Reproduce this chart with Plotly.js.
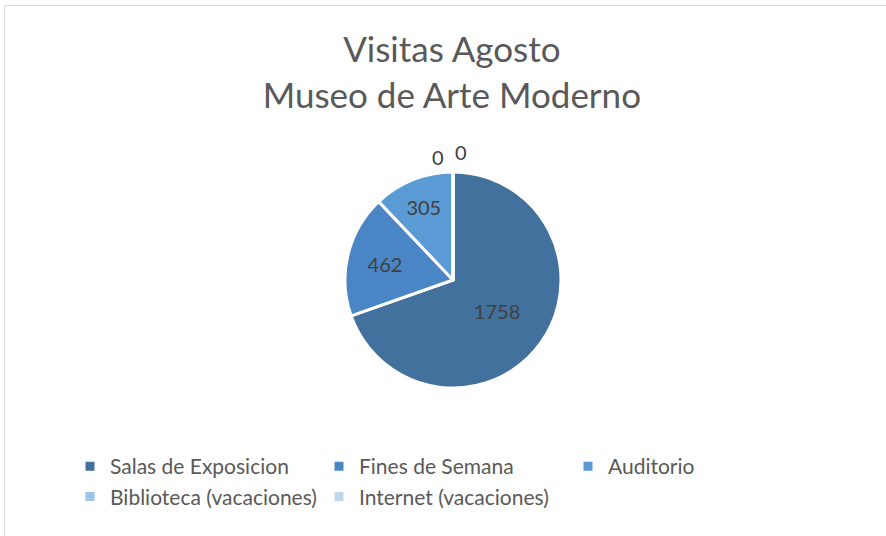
<!DOCTYPE html>
<html>
<head>
<meta charset="utf-8">
<script src="https://cdn.plot.ly/plotly-3.0.1.min.js"></script>
<style>html,body{margin:0;padding:0;background:#fff;}#chart{width:886px;height:536px;}</style>
</head>
<body>
<div id="chart"></div>
<script>
var categories = ["Salas de Exposicion", "Fines de Semana", "Auditorio", "Biblioteca (vacaciones)", "Internet (vacaciones)"];
var visitas = [1758, 462, 305, 0, 0];
var colores = ["#41719C", "#4A86C5", "#5B9BD5", "#9DC3E6", "#BDD7EE"];
var chartTitle = "Visitas Agosto<br>Museo de Arte Moderno";

var W = 886, H = 536;
var cx = 453, cy = 280, r = 108;
var FONT = "Lato, 'Open Sans', sans-serif";

var trace = {
  type: "pie",
  labels: categories,
  values: visitas,
  sort: false,
  direction: "clockwise",
  rotation: 0,
  textinfo: "value",
  textposition: visitas.map(function(v){ return v > 0 ? "inside" : "none"; }),
  insidetextorientation: "horizontal",
  textfont: {family: FONT, size: 20, color: "#404040"},
  marker: {colors: colores, line: {color: "#ffffff", width: 3}},
  domain: {x: [(cx - r) / W, (cx + r) / W], y: [(H - cy - r) / H, (H - cy + r) / H]},
  hoverinfo: "label+value+percent"
};

// labels for the zero-value slices (plotly cannot place them side by side)
var zeroIdx = [];
visitas.forEach(function(v, i){ if (v === 0) zeroIdx.push(i); });
var zeroPos = [[438, 157], [461, 152]];
var annotations = zeroIdx.map(function(i, k){
  var p = zeroPos[k % zeroPos.length];
  return {
    xref: "paper", yref: "paper", x: p[0] / W, y: 1 - p[1] / H,
    xanchor: "center", yanchor: "middle", showarrow: false,
    text: String(visitas[i]),
    font: {family: FONT, size: 20, color: "#404040"}
  };
});

var layout = {
  width: W, height: H,
  margin: {l: 0, r: 0, t: 0, b: 0},
  paper_bgcolor: "#ffffff",
  font: {family: FONT, color: "#595959"},
  title: {
    text: chartTitle,
    font: {family: FONT, size: 35, color: "#595959"},
    x: 0.51, xanchor: "center",
    y: 1 - 62 / H, yanchor: "top"
  },
  showlegend: true,
  legend: {
    orientation: "h",
    x: 70 / W, xanchor: "left",
    y: 1 - 446 / H, yanchor: "top",
    entrywidth: 204,
    font: {family: FONT, size: 21, color: "#595959"},
    traceorder: "normal"
  },
  annotations: annotations,
  shapes: [{
    type: "rect", xref: "paper", yref: "paper",
    x0: 4.5 / W, x1: 1.05, y0: -0.05, y1: 1 - 5.5 / H,
    line: {color: "#D9D9D9", width: 1}
  }]
};

Plotly.newPlot("chart", [trace], layout, {displayModeBar: false, staticPlot: true});
</script>
</body>
</html>
